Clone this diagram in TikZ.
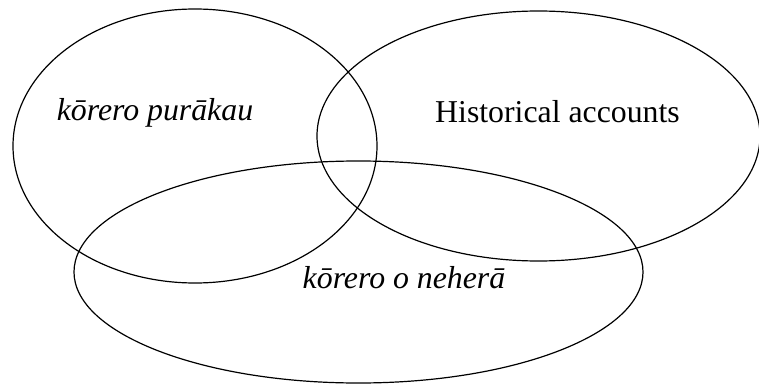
\documentclass[tikz,border=0pt]{standalone}
\usepackage{fontspec}
\setmainfont{Liberation Serif}
\usetikzlibrary{shapes.geometric}
\begin{document}
\begin{tikzpicture}[x=1pt,y=-1pt,
  venn/.style={draw=black,line width=1.2pt,ellipse,inner sep=0pt},
  lbl/.style={anchor=base,inner sep=0pt,font=\fontsize{31.8}{38}\selectfont}]
\useasboundingbox (0,0) rectangle (759,385);
\node[venn,minimum width=364pt,minimum height=274pt] (a) at (195,146) {};
\node[venn,minimum width=443pt,minimum height=250pt] (b) at (538.5,136) {};
\node[venn,minimum width=569pt,minimum height=222pt] (c) at (358.5,272) {};
\node[lbl] (ta) at (155,121) {\itshape kōrero purākau};
\node[lbl] (tb) at (557.5,122) {Historical accounts};
\node[lbl] (tc) at (404,288) {\itshape kōrero o neherā};
\end{tikzpicture}
\end{document}
